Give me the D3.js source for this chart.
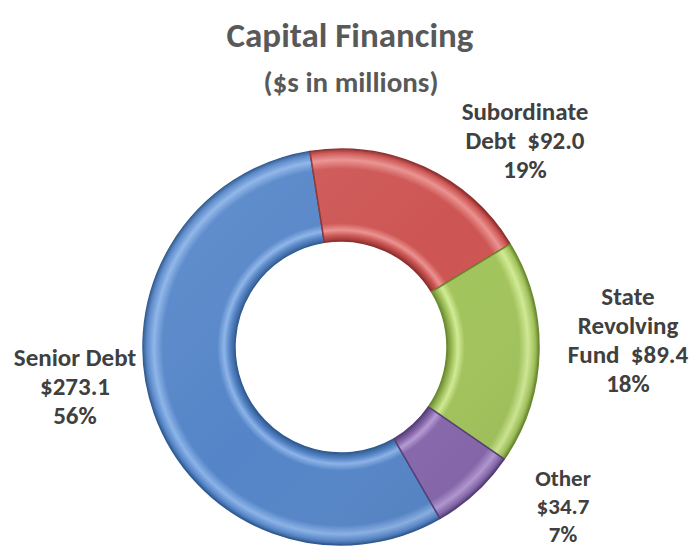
<!DOCTYPE html>
<html><head><meta charset="utf-8">
<script src="https://cdn.jsdelivr.net/npm/d3@7"></script>
<style>
html,body{margin:0;padding:0;background:#fff;}
text{font-family:Carlito,Calibri,Lato,"Open Sans",sans-serif;font-weight:bold;white-space:pre;}
</style></head>
<body>
<svg id="chart" width="697" height="550"></svg>
<script>
// ---- data ----
const categories = ["Senior Debt", "Subordinate Debt", "State Revolving Fund", "Other"];
const values = [273.1, 92.0, 89.4, 34.7];
const percents = ["56%", "19%", "18%", "7%"];
const labelNameLines = [["Senior Debt"], ["Subordinate", "Debt"], ["State", "Revolving", "Fund"], ["Other"]];
const valueOnNameLine = [false, true, true, false];
const title = "Capital Financing";
const subtitle = "($s in millions)";

// ---- layout ----
const W = 697, H = 550;
const cx = 341, cy = 347, R = 198, r0 = 106;
const colors = ["#5585c8", "#cd5553", "#a2c45b", "#8767ad"];
const darks  = ["#2f5a92", "#8e2f2d", "#6a8a2e", "#553d78"];
const lights = ["#8bb3e8", "#ea9290", "#d2ec95", "#b69bd6"];
const startDeg = 150;
// label block anchors (x center, first line center y, line spacing, font size)
const labelAnchor = [[75, 357, 29, 25], [525, 111, 29, 25], [628, 296, 29, 25], [563, 477, 28, 23]];

const svg = d3.select("#chart");
const defs = svg.append("defs");

const pie = d3.pie().sort(null).value(d => d)
  .startAngle(startDeg * Math.PI / 180)
  .endAngle((startDeg + 360) * Math.PI / 180);
const arcs = pie(values);
const arc = d3.arc().innerRadius(r0).outerRadius(R);

const f = r0 / R;
colors.forEach((c, i) => {
  const g = defs.append("radialGradient").attr("id", "g" + i)
    .attr("gradientUnits", "userSpaceOnUse").attr("cx", 0).attr("cy", 0).attr("r", R);
  const stops = [
    [0, darks[i]], [f, darks[i]], [f + 0.03, c], [f + 0.055, lights[i]], [f + 0.09, c],
    [0.9, c], [0.945, lights[i]], [0.98, c], [1, darks[i]]
  ];
  stops.forEach(s => g.append("stop").attr("offset", s[0]).attr("stop-color", s[1]));
});
// lighting overlay
const lg = defs.append("linearGradient").attr("id", "light")
  .attr("x1", 0).attr("y1", 0).attr("x2", 1).attr("y2", 1);
lg.append("stop").attr("offset", 0).attr("stop-color", "#fff").attr("stop-opacity", 0.1);
lg.append("stop").attr("offset", 0.5).attr("stop-color", "#fff").attr("stop-opacity", 0);
lg.append("stop").attr("offset", 1).attr("stop-color", "#000").attr("stop-opacity", 0.1);

const gPie = svg.append("g").attr("transform", `translate(${cx},${cy})`);
gPie.selectAll("path.slice").data(arcs).enter().append("path")
  .attr("class", "slice")
  .attr("d", arc)
  .attr("fill", (d, i) => `url(#g${i})`)
  .attr("stroke", (d, i) => darks[i])
  .attr("stroke-width", 1.5)
  .attr("stroke-linejoin", "round");
const ov = d3.arc().innerRadius(r0).outerRadius(R).startAngle(0).endAngle(2 * Math.PI);
gPie.append("path").attr("d", ov()).attr("fill", "url(#light)").attr("pointer-events", "none");

// title
svg.append("text").attr("x", 350).attr("y", 47).attr("text-anchor", "middle")
  .attr("font-size", 35).attr("fill", "#595959").text(title);
svg.append("text").attr("x", 351).attr("y", 92).attr("text-anchor", "middle")
  .attr("font-size", 29).attr("fill", "#595959").text(subtitle);

// labels
arcs.forEach((a, i) => {
  const lines = labelNameLines[i].slice();
  const val = "$" + values[i].toFixed(1);
  if (valueOnNameLine[i]) lines[lines.length - 1] += "  " + val; else lines.push(val);
  lines.push(percents[i]);
  const [lx, ly, lh, fs] = labelAnchor[i];
  const t = svg.append("text").attr("text-anchor", "middle")
    .attr("font-size", fs).attr("fill", "#404040");
  lines.forEach((ln, k) => {
    t.append("tspan").attr("x", lx).attr("y", ly + k * lh + 9).text(ln);
  });
});
</script>
</body></html>
